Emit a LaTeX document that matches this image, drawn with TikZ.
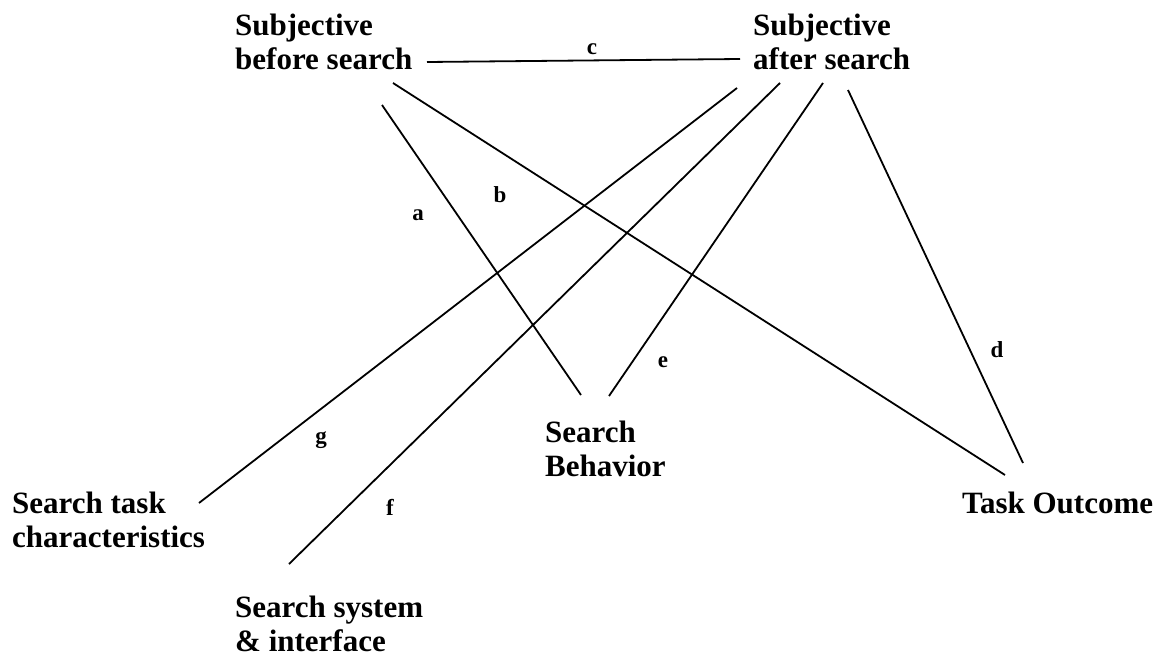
\documentclass[tikz,border=0pt]{standalone}
\usepackage{fontspec}
\setmainfont{Liberation Serif}
\begin{document}
\begin{tikzpicture}[x=1pt,y=-1pt,
  concept/.style={anchor=north west,inner sep=0pt,align=left,font=\bfseries\fontsize{31}{34}\selectfont},
  lbl/.style={inner sep=0pt,font=\bfseries\fontsize{23}{25}\selectfont},
  link/.style={line width=1.8pt,black}]
\useasboundingbox (0,0) rectangle (1160,661);
\fill[white] (0,0) rectangle (1160,661);
% concepts
\node[concept] (sbs) at (235,14) {Subjective\\before search};
\node[concept] (sas) at (753,14) {Subjective\\after search};
\node[concept] (beh) at (545,421) {Search\\Behavior};
\node[concept] (out) at (962,492) {Task Outcome};
\node[concept] (chr) at (12,492) {Search task\\characteristics};
\node[concept] (sys) at (235,596) {Search system\\\& interface};
% connector end points
\coordinate (c1) at (427,62);  \coordinate (c2) at (740,59);
\coordinate (a1) at (382,105); \coordinate (a2) at (581,395);
\coordinate (b1) at (393,83);  \coordinate (b2) at (1005,475);
\coordinate (g1) at (737,88);  \coordinate (g2) at (199,503);
\coordinate (f1) at (780,83);  \coordinate (f2) at (289,564);
\coordinate (e1) at (823,83);  \coordinate (e2) at (609,396);
\coordinate (d1) at (848,90);  \coordinate (d2) at (1023,463);
% connectors
\draw[link] (c1) -- (c2);
\draw[link] (a1) -- (a2);
\draw[link] (b1) -- (b2);
\draw[link] (g1) -- (g2);
\draw[link] (f1) -- (f2);
\draw[link] (e1) -- (e2);
\draw[link] (d1) -- (d2);
% labels
\node[lbl] (la) at (418,215) {a};
\node[lbl] (lb) at (500,195) {b};
\node[lbl] (lc) at (592,49) {c};
\node[lbl] (ld) at (997,350) {d};
\node[lbl] (le) at (663,362) {e};
\node[lbl] (lf) at (390,507) {f};
\node[lbl] (lg) at (321,440) {g};
\end{tikzpicture}
\end{document}
